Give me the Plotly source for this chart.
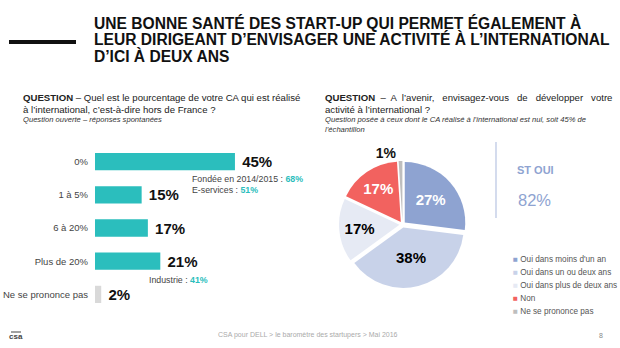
import plotly.graph_objects as go

W, H = 620, 348

# Left chart: share of turnover made abroad
ca_categories = ["0%", "1 à 5%", "6 à 20%", "Plus de 20%", "Ne se prononce pas"]
ca_values = [45, 15, 17, 21, 2]
ca_colors = ["#2BBEBD", "#2BBEBD", "#2BBEBD", "#2BBEBD", "#D9D9D9"]

# Sub-group notes under some bars: (category, label, value)
ca_notes = [
    ("0%", "Fondée en 2014/2015 : ", "68%"),
    ("0%", "E-services : ", "51%"),
    ("Plus de 20%", "Industrie : ", "41%"),
]

# Right chart: plans to expand abroad
dev_labels = ["Oui dans moins d'un an", "Oui dans un ou deux ans",
              "Oui dans plus de deux ans", "Non", "Ne se prononce pas"]
dev_values = [27, 38, 17, 17, 1]
dev_colors = ["#8EA3D1", "#C8D2E9", "#E6EAF4", "#F2625F", "#BEBEBE"]
dev_text_colors = ["white", "black", "black", "white", "black"]
st_oui_value = 82

title_lines = [
    "UNE BONNE SANTÉ DES START-UP QUI PERMET ÉGALEMENT À",
    "LEUR DIRIGEANT D’ENVISAGER UNE ACTIVITÉ À L’INTERNATIONAL",
    "D’ICI À DEUX ANS",
]

FONT = "Liberation Sans"
TEAL = "#2BBEBD"


def px(x):
    return x / W


def py(y):
    return 1 - y / H


fig = go.Figure()

fig.add_trace(go.Bar(
    x=ca_values, y=ca_categories, orientation="h",
    marker=dict(color=ca_colors, line=dict(width=0)),
    width=0.52,
    texttemplate=" <b>%{x}%</b>", textposition="outside",
    textfont=dict(family=FONT, size=15, color="#111111"),
    cliponaxis=False, showlegend=False,
    xaxis="x", yaxis="y",
))

fig.add_trace(go.Pie(
    labels=dev_labels, values=dev_values, sort=False,
    direction="clockwise", rotation=0,
    marker=dict(colors=dev_colors, line=dict(width=0)),
    pull=[0.05] * 5,
    texttemplate="<b>%{value}%</b>",
    textposition=["inside", "inside", "inside", "inside", "outside"],
    insidetextorientation="horizontal",
    insidetextfont=dict(family=FONT, size=15, color=dev_text_colors),
    outsidetextfont=dict(family=FONT, size=14, color="#111111"),
    domain=dict(x=[px(339), px(466)], y=[py(288), py(161)]),
    showlegend=False,
))

x_max = 60
bar_left, px_per_unit = 95, 3.11
fig.update_layout(
    width=W, height=H,
    margin=dict(l=0, r=0, t=0, b=0),
    paper_bgcolor="white", plot_bgcolor="white",
    font=dict(family=FONT, color="#333333"),
    xaxis=dict(domain=[px(bar_left), px(bar_left + x_max * px_per_unit)],
               range=[0, x_max], visible=False, fixedrange=True),
    yaxis=dict(domain=[py(311), py(145)], autorange="reversed",
               showgrid=False, zeroline=False, showline=False, ticks="",
               ticklabelstandoff=6,
               tickfont=dict(family=FONT, size=9.5, color="#444444")),
    bargap=0.4,
)

ann = []
# Title
for i, line in enumerate(title_lines):
    ann.append(dict(x=px(92), y=py(12 + i * 16.3), xref="paper", yref="paper",
                    xanchor="left", yanchor="top", showarrow=False,
                    text=f"<b>{line}</b>",
                    font=dict(family=FONT, size=15.6, color="#111111")))

# Left question
ann += [
    dict(x=px(21), y=py(90), text="<b>QUESTION</b> – Quel est le pourcentage de votre CA qui est réalisé",
         font=dict(size=9.6, color="#222222")),
    dict(x=px(21), y=py(102), text="à l’international, c’est-à-dire hors de France ?",
         font=dict(size=9.6, color="#222222")),
    dict(x=px(21), y=py(113), text="<i>Question ouverte – réponses spontanées</i>",
         font=dict(size=7.6, color="#333333")),
]

# Right question
ann += [
    dict(x=px(323), y=py(90), text="<b>QUESTION</b>  –  A  l’avenir,   envisagez-vous   de   développer   votre",
         font=dict(size=9.6, color="#222222")),
    dict(x=px(323), y=py(102), text="activité à l’international ?",
         font=dict(size=9.6, color="#222222")),
    dict(x=px(323), y=py(113), text="<i>Question posée à ceux dont le CA réalisé à l’international est nul, soit 45% de</i>",
         font=dict(size=7.6, color="#333333")),
    dict(x=px(323), y=py(123), text="<i>l’échantillon</i>",
         font=dict(size=7.6, color="#333333")),
]

# Notes under bars
note_pos = [(190, 172), (190, 183), (147, 273)]
for (cat, lab, val), (nx, ny) in zip(ca_notes, note_pos):
    ann.append(dict(x=px(nx), y=py(ny),
                    text=f"{lab}<span style='color:{TEAL}'><b>{val}</b></span>",
                    font=dict(size=8.8, color="#444444")))

# ST OUI block
ann += [
    dict(x=px(515), y=py(162), text="<b>ST OUI</b>",
         font=dict(size=11, color="#8EA3D1")),
    dict(x=px(516), y=py(189), text=f"{st_oui_value}%",
         font=dict(size=16.5, color="#8EA3D1")),
]

# Legend rows
for i, (lab, col) in enumerate(zip(dev_labels, dev_colors)):
    yy = 259 + i * 13.2
    ann.append(dict(x=px(511), y=py(yy), yanchor="middle",
                    text=f"<span style='color:{col}'>■</span> {lab}",
                    font=dict(size=8.2, color="#555555")))

# Footer
ann += [
    dict(x=px(308), y=py(335), xanchor="center", yanchor="middle",
         text="CSA pour DELL > le baromètre des startupers > Mai 2016",
         font=dict(size=7, color="#AAAAAA")),
    dict(x=px(601), y=py(335), xanchor="center", yanchor="middle", text="8",
         font=dict(size=7, color="#888888")),
    dict(x=px(16), y=py(336), xanchor="center", yanchor="middle", text="<b>csa</b>",
         font=dict(size=8, color="#444444")),
]

for a in ann:
    a.setdefault("xref", "paper")
    a.setdefault("yref", "paper")
    a.setdefault("xanchor", "left")
    a.setdefault("yanchor", "top")
    a.setdefault("showarrow", False)
    a["font"].setdefault("family", FONT)
fig.update_layout(annotations=ann)

shapes = [
    dict(type="rect", xref="paper", yref="paper", x0=px(9), x1=px(76),
         y0=py(44), y1=py(40), fillcolor="#111111", line=dict(width=0)),
    dict(type="line", xref="paper", yref="paper", x0=px(496), x1=px(496),
         y0=py(218), y1=py(142), line=dict(color="#B8C4E2", width=1.2)),
    dict(type="line", xref="paper", yref="paper", x0=px(11), x1=px(21),
         y0=py(332), y1=py(332), line=dict(color="#444444", width=1)),
]
fig.update_layout(shapes=shapes)

fig.write_html("out.html")
